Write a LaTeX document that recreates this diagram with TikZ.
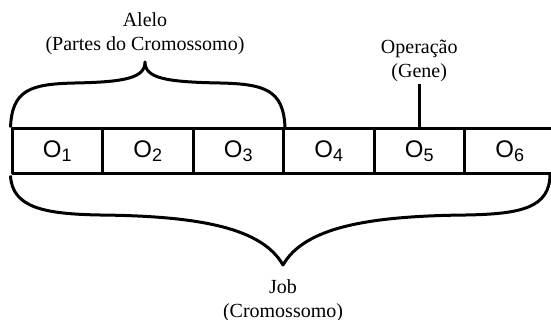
\documentclass[tikz,border=0pt]{standalone}
\usepackage{fontspec}
\setmainfont{Liberation Serif}
\newfontfamily\cellfont{Liberation Sans}
\newcommand\opl[1]{O\raisebox{-4pt}{\fontsize{18}{18}\selectfont #1}}
\begin{document}
\begin{tikzpicture}[x=1pt,y=-1pt,line width=3pt,line join=round,
  cell/.style={draw,minimum width=90.5pt,minimum height=45pt,inner sep=0pt,
    font=\cellfont\fontsize{24}{24}\selectfont},
  lbl/.style={align=center,font=\fontsize{20}{24}\selectfont,inner sep=0pt,anchor=base},
  brace/.style={draw,line width=3pt}]
\useasboundingbox (0,0) rectangle (551,320);
\clip (0,0) rectangle (551,320);
\fill[white] (0,0) rectangle (551,320);
% cells
\node[cell] (c1) at (57.25,151.5) {\opl{1}};
\node[cell] (c2) at (147.75,151.5) {\opl{2}};
\node[cell] (c3) at (238.25,151.5) {\opl{3}};
\node[cell] (c4) at (328.75,151.5) {\opl{4}};
\node[cell] (c5) at (419.25,151.5) {\opl{5}};
\node[cell] (c6) at (509.75,151.5) {\opl{6}};
% labels (anchor = baseline of the last line)
\node[lbl] (alelo) at (145,51) {Alelo\\(Partes do Cromossomo)};
\node[lbl] (oper) at (419.25,78) {Operação\\(Gene)};
\node[lbl] (job) at (283,317) {Job\\(Cromossomo)};
% coordinates
\coordinate (atip) at (145,62);
\coordinate (jtip) at (283,265);
\coordinate (jr) at (550,174);
\coordinate (optop) at (419.25,84);
% gene connector
\draw (c5.north) -- (optop);
% top brace
\draw[brace] (c1.north west) .. controls (12,90) and (30,84) .. (75,83)
  .. controls (125,82) and (145,78) .. (atip)
  .. controls (145,78) and (165,82) .. (220,83)
  .. controls (265,84) and (283.5,90) .. (c3.north east);
% bottom brace
\draw[brace] (c1.south west) .. controls (12,208) and (45,214) .. (100,215)
  .. controls (200,216) and (262,228) .. (jtip)
  .. controls (304,228) and (366,216) .. (466,215)
  .. controls (521,214) and (550,208) .. (jr);
\end{tikzpicture}
\end{document}
